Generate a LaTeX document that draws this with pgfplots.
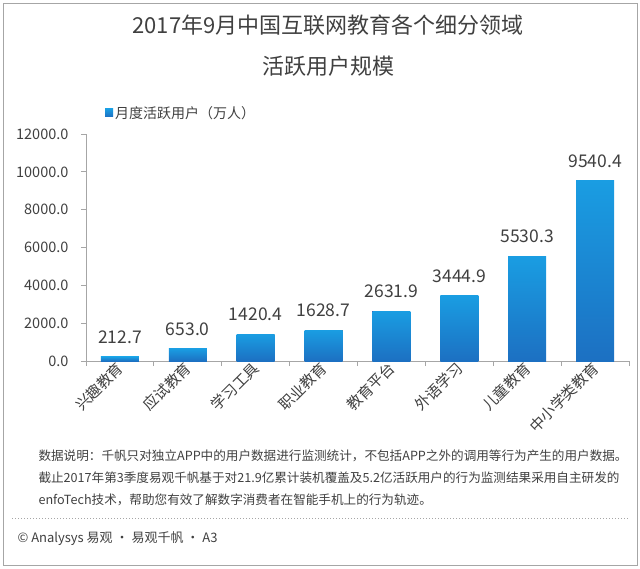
\documentclass[border=0pt]{standalone}
\usepackage{fontspec}
\setmainfont{Noto Sans CJK SC}
\usepackage{pgfplots}
\pgfplotsset{compat=1.18}
\definecolor{txt}{HTML}{404040}
\definecolor{axisgray}{HTML}{A6A6A6}
\definecolor{bartop}{HTML}{1A9DE2}
\definecolor{barbot}{HTML}{1C70C2}
\definecolor{barmid}{HTML}{1A86D3}
\begin{document}
\begin{tikzpicture}[x=1pt,y=1pt]
\useasboundingbox (0,0) rectangle (640,-568);
\draw[axisgray, line width=1pt] (3,-3) rectangle (637,-565);
\node[text=txt, font=\fontsize{22}{26}\selectfont] at (328,-25) {2017年9月中国互联网教育各个细分领域};
\node[text=txt, font=\fontsize{22}{26}\selectfont] at (328,-66) {活跃用户规模};
\begin{axis}[
  at={(86pt,-361pt)}, anchor=south west,
  scale only axis, width=543pt, height=227pt,
  xmin=0.5, xmax=8.5, ymin=0, ymax=12000,
  enlargelimits=false,
  axis x line*=bottom, axis y line*=left,
  axis line style={axisgray, line width=0.8pt},
  /pgf/number format/assume math mode=true,
  xtick={1,...,8},
  xticklabels={兴趣教育,应试教育,学习工具,职业教育,教育平台,外语学习,儿童教育,中小学类教育},
  major x tick style={draw=none},
  minor xtick={0.5,1.5,...,8.5},
  minor tick length=5pt,
  tick align=outside,
  tick style={axisgray, line width=0.8pt},
  major tick length=5pt,
  xticklabel style={rotate=45, anchor=east, font=\fontsize{15}{18}\selectfont, text=txt, inner sep=1pt, xshift=2pt},
  ytick={0,2000,...,12000},
  yticklabel style={font=\fontsize{14.5}{17}\selectfont, text=txt, xshift=-9pt,
    /pgf/number format/.cd, fixed, fixed zerofill, precision=1, 1000 sep={}},
  scaled y ticks=false,
  ybar, bar width=38pt, bar shift=0pt,
  every axis plot/.append style={draw=none, top color=bartop, bottom color=barbot},
  nodes near coords={\pgfmathprintnumber[fixed,fixed zerofill,precision=1,1000 sep={}]{\pgfplotspointmeta}},
  nodes near coords style={anchor=south, inner sep=0pt, yshift=13pt, font=\fontsize{17.5}{20}\selectfont, text=txt},
  legend style={at={(rel axis cs:0.035,1.093)}, anchor=west, draw=none, fill=none, inner sep=0pt,
    font=\fontsize{14}{16}\selectfont, text=txt},
  legend image code/.code={\fill[barmid] (0pt,-4pt) rectangle (8pt,4pt);},
]
\addplot coordinates {(1,212.7)};
\addlegendentry{月度活跃用户（万人）}
\addplot coordinates {(2,653.0)};
\addplot coordinates {(3,1420.4)};
\addplot coordinates {(4,1628.7)};
\addplot coordinates {(5,2631.9)};
\addplot coordinates {(6,3444.9)};
\addplot coordinates {(7,5530.3)};
\addplot coordinates {(8,9540.4)};
\end{axis}
\node[anchor=base west, text=txt, font=\fontsize{12.6}{15}\selectfont] at (35,-460) {数据说明：千帆只对独立APP中的用户数据进行监测统计，不包括APP之外的调用等行为产生的用户数据。};
\node[anchor=base west, text=txt, font=\fontsize{12.6}{15}\selectfont] at (35,-482) {截止2017年第3季度易观千帆基于对21.9亿累计装机覆盖及5.2亿活跃用户的行为监测结果采用自主研发的};
\node[anchor=base west, text=txt, font=\fontsize{12.6}{15}\selectfont] at (35,-504) {enfoTech技术，帮助您有效了解数字消费者在智能手机上的行为轨迹。};
\draw[axisgray, dotted, line width=1pt] (12,-518) -- (628,-518);
\node[anchor=base west, text=txt, font=\fontsize{13}{15}\selectfont] at (14,-542) {© Analysys 易观 · 易观千帆 · A3};
\end{tikzpicture}
\end{document}
